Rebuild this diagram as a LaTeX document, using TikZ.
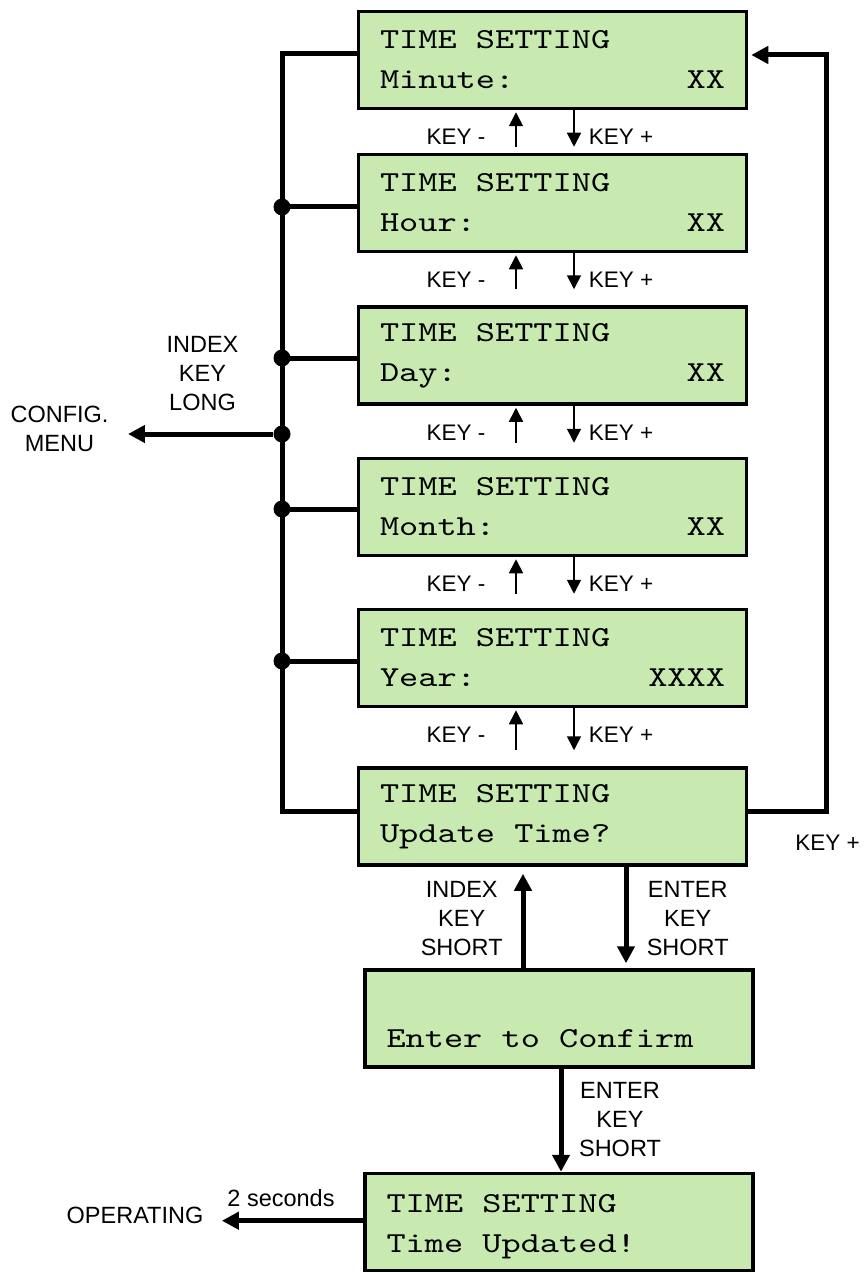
\documentclass[tikz,border=0pt]{standalone}
\usepackage{fontspec}
\setmainfont{Liberation Sans}
\newfontfamily\lcdfont{lmmono10-regular.otf}[FakeStretch=1.26]
\usetikzlibrary{arrows.meta}
\definecolor{lcdgreen}{RGB}{200,234,176}
\newcommand{\lcdval}[1]{\hskip 0pt plus 1filll #1\hspace*{18pt}}

\begin{document}
\begin{tikzpicture}[x=1pt,y=-1pt,
  lcd/.style={draw,line width=3.5pt,fill=lcdgreen,text width=345pt,inner xsep=21.5pt,
    minimum height=97pt,align=left,font=\fontsize{29}{40}\lcdfont,
    execute at begin node={\spaceskip=19.2pt\relax}},
  bus/.style={line width=5pt},
  bigarrow/.style={line width=5pt,-{Triangle[width=17pt,length=17pt]}},
  keyarrow/.style={line width=1.7pt,-{Triangle[width=14pt,length=14pt]}},
  dot/.style={circle,fill,inner sep=0pt,minimum size=17pt},
  lbl/.style={align=center,font=\fontsize{23.5}{29}\selectfont},
  keylbl/.style={font=\fontsize{22.5}{26}\selectfont}]
\useasboundingbox (0,0) rectangle (863,1273);

% screens
\node[lcd] (b1) at (552.5,60) {TIME SETTING\\Minute:\lcdval{XX}};
\node[lcd] (b2) at (552.5,203) {TIME SETTING\\Hour:\lcdval{XX}};
\node[lcd] (b3) at (552.5,355.5) {TIME SETTING\\Day:\lcdval{XX}};
\node[lcd] (b4) at (552.5,507) {TIME SETTING\\Month:\lcdval{XX}};
\node[lcd] (b5) at (552.5,658) {TIME SETTING\\Year:\lcdval{XXXX}};
\node[lcd] (b6) at (552.5,816.5) {TIME SETTING\\Update Time?};
\node[lcd] (bc) at (559,1018.5) {\vphantom{T}\\Enter to Confirm};
\node[lcd] (bt) at (559,1222) {\strut TIME SETTING\\Time Updated!};

\foreach \bA/\bB/\g in {b1/b2/6pt,b2/b3/16pt,b3/b4/14pt,b4/b5/14pt,b5/b6/16pt}{
  \draw[keyarrow,shorten >=2pt] ([xshift=-36.5pt,yshift=\g]\bB.north) -- ([xshift=-36.5pt]\bA.south);
  \draw[keyarrow] ([xshift=21.5pt]\bA.south) -- ([xshift=21.5pt,yshift=\g]\bB.north);
  \node[keylbl] (km\bA) at ([xshift=-96.5pt,yshift=-27pt]\bA.south) {KEY -};
  \node[keylbl] (kp\bA) at ([xshift=68.5pt,yshift=-27pt]\bA.south) {KEY +};
}

% left bus
\coordinate (busend) at (282,811.5);
\draw[bus] ([yshift=6pt]b1.west) -| (busend) -- ([yshift=5pt]b6.west);
\foreach \bA/\s in {b2/-4pt,b3/-2.5pt,b4/-2pt,b5/-3pt}
  \draw[bus] ([yshift=\s]\bA.west) -- ([yshift=\s]\bA.west -| busend) node[dot] (d\bA) {};
\node[dot] (dcfg) at (282,434) {};
\node[lbl] (cfg) at (59.5,429) {CONFIG.\\MENU};
\node[lbl] (lng) at (202.5,373.8) {INDEX\\KEY\\LONG};
\draw[bigarrow] (dcfg) -- ([xshift=16pt]dcfg -| cfg.east);

% right loop
\coordinate (keyr) at (826,55);
\draw[bigarrow,shorten >=3pt] ([yshift=5pt]b6.east) -| (keyr) -- ([yshift=5pt]b1.east);
\node[keylbl] (kpr) at (827.5,842.5) {KEY +};

% confirm
\draw[bigarrow,shorten >=7pt] ([xshift=-36pt]bc.north) -- ([xshift=-29.5pt]b6.south);
\draw[bigarrow,shorten >=5pt] ([xshift=73.5pt]b6.south) -- ([xshift=67pt]bc.north);
\draw[bigarrow] ([xshift=2pt]bc.south) -- ([xshift=2pt]bt.north);
\node[lbl] (isht) at (461.7,918.3) {INDEX\\KEY\\SHORT};
\node[lbl] (esht) at (687.7,918.3) {ENTER\\KEY\\SHORT};
\node[lbl] (eshtb) at (620,1119.3) {ENTER\\KEY\\SHORT};

% leave
\node[lbl] (op) at (135,1215) {OPERATING};
\node[lbl] (sec) at (281,1198) {2 seconds};
\draw[bigarrow] ([yshift=1.3pt]bt.west) -- ([xshift=15pt,yshift=1.3pt]bt.west -| op.east);
\end{tikzpicture}
\end{document}
